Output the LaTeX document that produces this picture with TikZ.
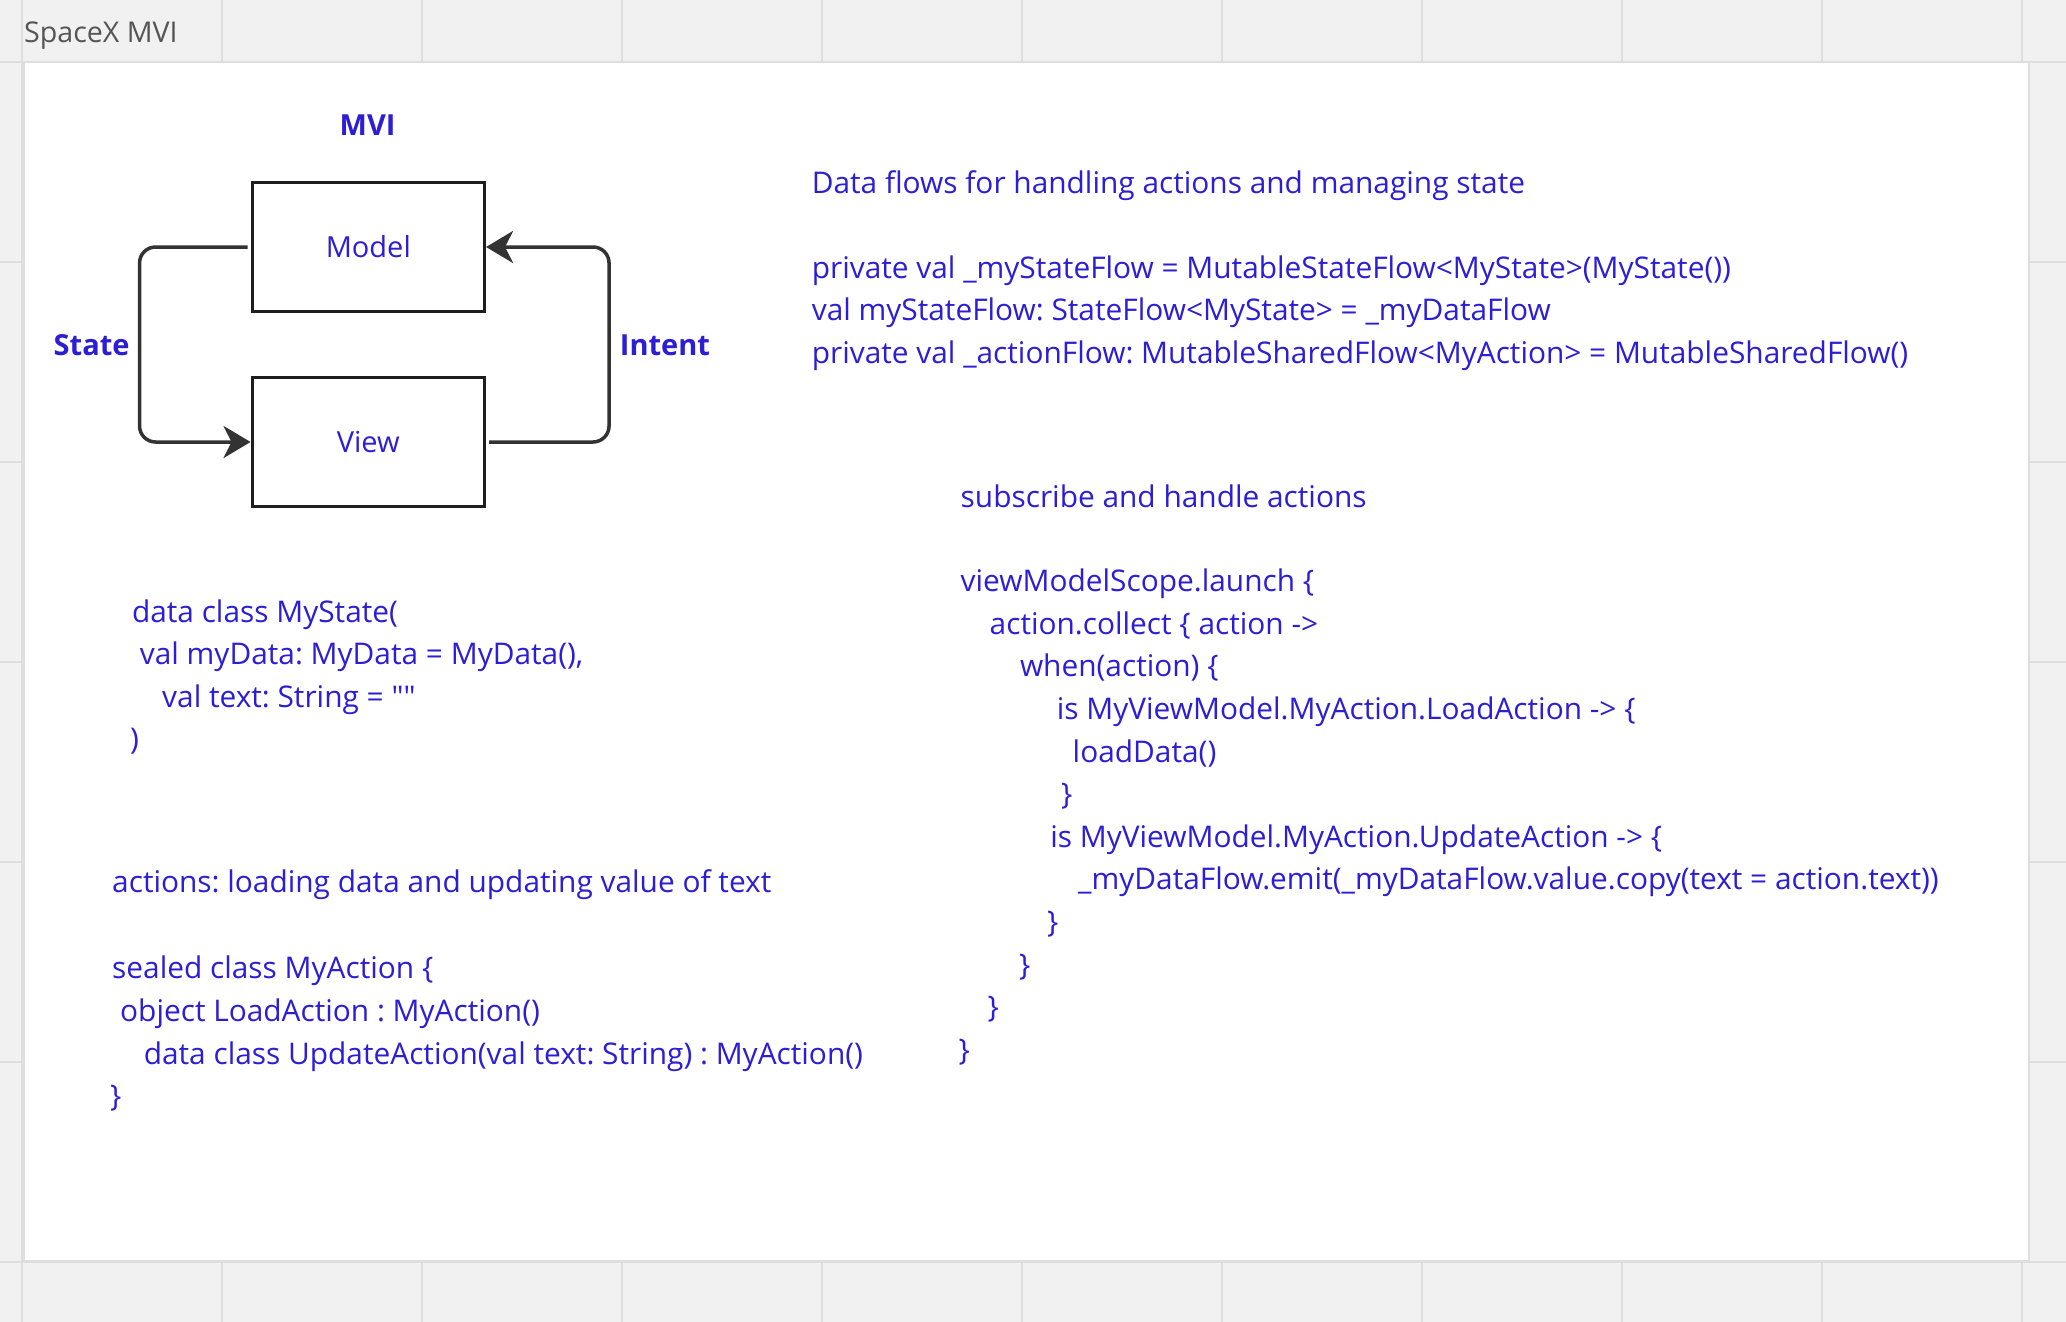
\documentclass[tikz,border=0pt]{standalone}
\usepackage{fontspec}
\setmainfont{Open Sans}[Ligatures=TeXOff]
\usetikzlibrary{arrows.meta}
\definecolor{ink}{RGB}{44,30,212}
\definecolor{canvas}{HTML}{F1F1F1}
\definecolor{gridline}{HTML}{DEDEDE}
\definecolor{framegray}{HTML}{555555}
\definecolor{boxline}{HTML}{1E1E1E}
\definecolor{wirecol}{HTML}{333333}
\frenchspacing

\begin{document}
\begin{tikzpicture}[x=1pt,y=-1pt,
  code/.style={anchor=base west, inner sep=0pt, text=ink, font=\fontsize{29.85}{36}\selectfont},
  caption/.style={anchor=center, inner sep=0pt, text=ink, font=\bfseries\fontsize{29}{35}\selectfont},
  block/.style={draw=boxline, line width=3.5pt, fill=white, minimum width=232pt, minimum height=129pt,
                inner sep=0pt, text=ink, font=\fontsize{29}{35}\selectfont},
  wire/.style={draw=wirecol, line width=3.5pt, rounded corners=16pt, shorten <=3pt,
               -{Stealth[length=27pt,width=32pt,inset=8pt]}}]

\useasboundingbox (0,0) rectangle (2066,1322);

% board background with its grid
\fill[canvas] (0,0) rectangle (2066,1322);
\foreach \x in {22,222,...,2022} \draw[gridline, line width=2pt] (\x,0) -- (\x,1322);
\foreach \y in {62,262,...,1262} \draw[gridline, line width=2pt] (0,\y) -- (2066,\y);

% frame
\filldraw[fill=white, draw=gridline, line width=2pt] (24,62) rectangle (2029,1261);
\node[anchor=west, inner sep=0pt, text=framegray, font=\fontsize{28.6}{34}\selectfont] (title) at (24,36) {SpaceX MVI};

% MVI loop
\node[caption] (mvi) at (367.6,125) {MVI};
\node[block] (model) at (368.3,247) {Model};
\node[block] (view) at (368.3,442) {View};
\node[caption] (state) at (91.6,345) {State};
\node[caption] (intent) at (665,345) {Intent};

\draw[wire] (model.west) -- ([xshift=-111pt]model.west) |- (view.west);
\draw[wire] (view.east) -- ([xshift=123pt]view.east) |- (model.east);

% state and flows
\node[code] (flows) at (811.6,193) {Data flows for handling actions and managing state};
\node[code] (decl1) at (811.6,278.8) {private val \_myStateFlow = MutableStateFlow<MyState>(MyState())};
\node[code] (decl2) at (811.6,320.9) {val myStateFlow: StateFlow<MyState> = \_myDataFlow};
\node[code] (decl3) at (811.6,363.1) {private val \_actionFlow: MutableSharedFlow<MyAction> = MutableSharedFlow()};

% state class
\node[code] (st1) at (131.8,622) {data class MyState(};
\node[code] (st2) at (139.7,664.6) {val myData: MyData = MyData(),};
\node[code] (st3) at (162,707.2) {val text: String = ""};
\node[code] (st4) at (130,749.8) {)};

% actions
\node[code] (act0) at (112,892.6) {actions: loading data and updating value of text};
\node[code] (act1) at (112,978.6) {sealed class MyAction \{};
\node[code] (act2) at (120,1021.6) {object LoadAction : MyAction()};
\node[code] (act3) at (143.6,1064.1) {data class UpdateAction(val text: String) : MyAction()};
\node[code] (act4) at (110,1106.6) {\}};

% subscription
\node[code] (sub0) at (960.5,507.7) {subscribe and handle actions};
\node[code] (sub1) at (960.5,591.6) {viewModelScope.launch \{};
\node[code] (sub2) at (989.5,634.2) {action.collect \{ action ->};
\node[code] (sub3) at (1019.8,676.8) {when(action) \{};
\node[code] (sub4) at (1056.7,719.4) {is MyViewModel.MyAction.LoadAction -> \{};
\node[code] (sub5) at (1072.5,762) {loadData()};
\node[code] (sub6) at (1061,804.6) {\}};
\node[code] (sub7) at (1050.1,847.2) {is MyViewModel.MyAction.UpdateAction -> \{};
\node[code] (sub8) at (1078,889.8) {\_myDataFlow.emit(\_myDataFlow.value.copy(text = action.text))};
\node[code] (sub9) at (1047,932.4) {\}};
\node[code] (sub10) at (1019,975) {\}};
\node[code] (sub11) at (987.5,1017.6) {\}};
\node[code] (sub12) at (958.5,1060.2) {\}};
\end{tikzpicture}
\end{document}
